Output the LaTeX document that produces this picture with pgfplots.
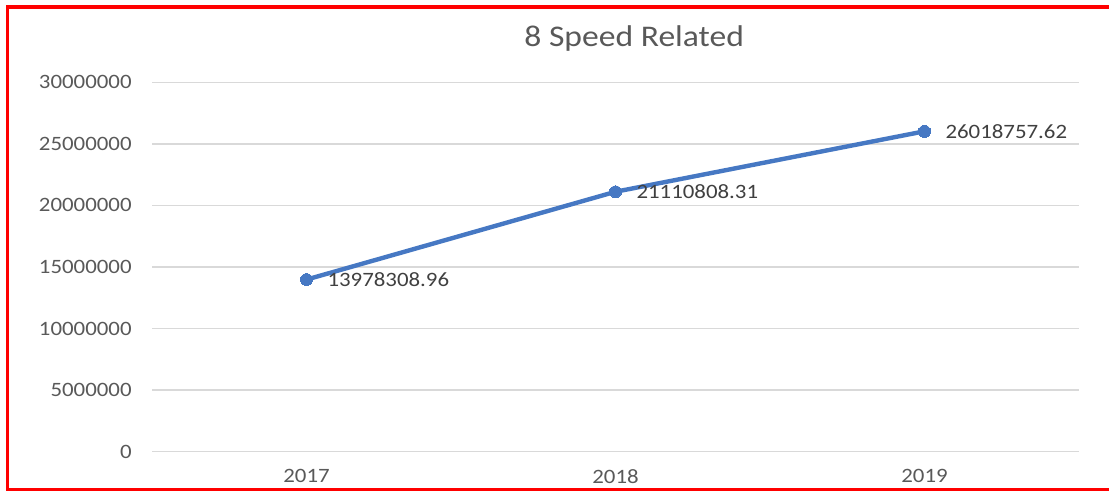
\documentclass[border=0pt]{standalone}
\usepackage{fontspec}
\setmainfont{Carlito}[FakeStretch=1.12]
\usepackage{pgfplots}
\pgfplotsset{compat=1.18}
\definecolor{lineblue}{RGB}{70,120,195}
\definecolor{gridgray}{RGB}{217,217,217}
\definecolor{ticktext}{RGB}{89,89,89}
\definecolor{labeltext}{RGB}{64,64,64}
\begin{document}
\begin{tikzpicture}
\useasboundingbox (0pt,0pt) rectangle (554.5pt,245.5pt);
\draw[red, line width=1.6pt] (554.5pt,242pt) -- (3.75pt,242pt) -- (3.75pt,0.8pt) -- (554.5pt,0.8pt);
\node[anchor=base, inner sep=0pt, font=\fontsize{15}{18}\selectfont, text=ticktext] at (317.1pt,222pt) {8 Speed Related};
\begin{axis}[
  at={(76pt,19.65pt)}, anchor=south west,
  scale only axis, width=463.5pt, height=184.7pt,
  xmin=-0.5, xmax=2.5, ymin=0, ymax=30000000,
  scaled y ticks=false,
  xtick={0,1,2}, xticklabels={2017,2018,2019},
  ytick={0,5000000,10000000,15000000,20000000,25000000,30000000},
  yticklabels={0,5000000,10000000,15000000,20000000,25000000,30000000},
  axis line style={draw=none},
  major tick length=0pt,
  ymajorgrids, grid style={gridgray, line width=0.75pt},
  tick label style={font=\fontsize{10.2}{12}\selectfont, text=ticktext},
  yticklabel style={anchor=east, inner sep=0pt, xshift=-10pt},
  xticklabel style={anchor=north, inner sep=0pt, yshift=-8.6pt},
  clip=false,
  point meta=explicit symbolic,
  nodes near coords,
  nodes near coords style={anchor=west, inner sep=0pt, xshift=10.5pt, font=\fontsize{10.2}{12}\selectfont, text=labeltext},
]
\addplot[lineblue, line width=2.2pt, mark=*, mark size=3pt, mark options={fill=lineblue, draw=lineblue, line width=0pt}]
  coordinates {(0,13978308.96) [13978308.96] (1,21110808.31) [21110808.31] (2,26018757.62) [26018757.62]};
\end{axis}
\end{tikzpicture}
\end{document}
